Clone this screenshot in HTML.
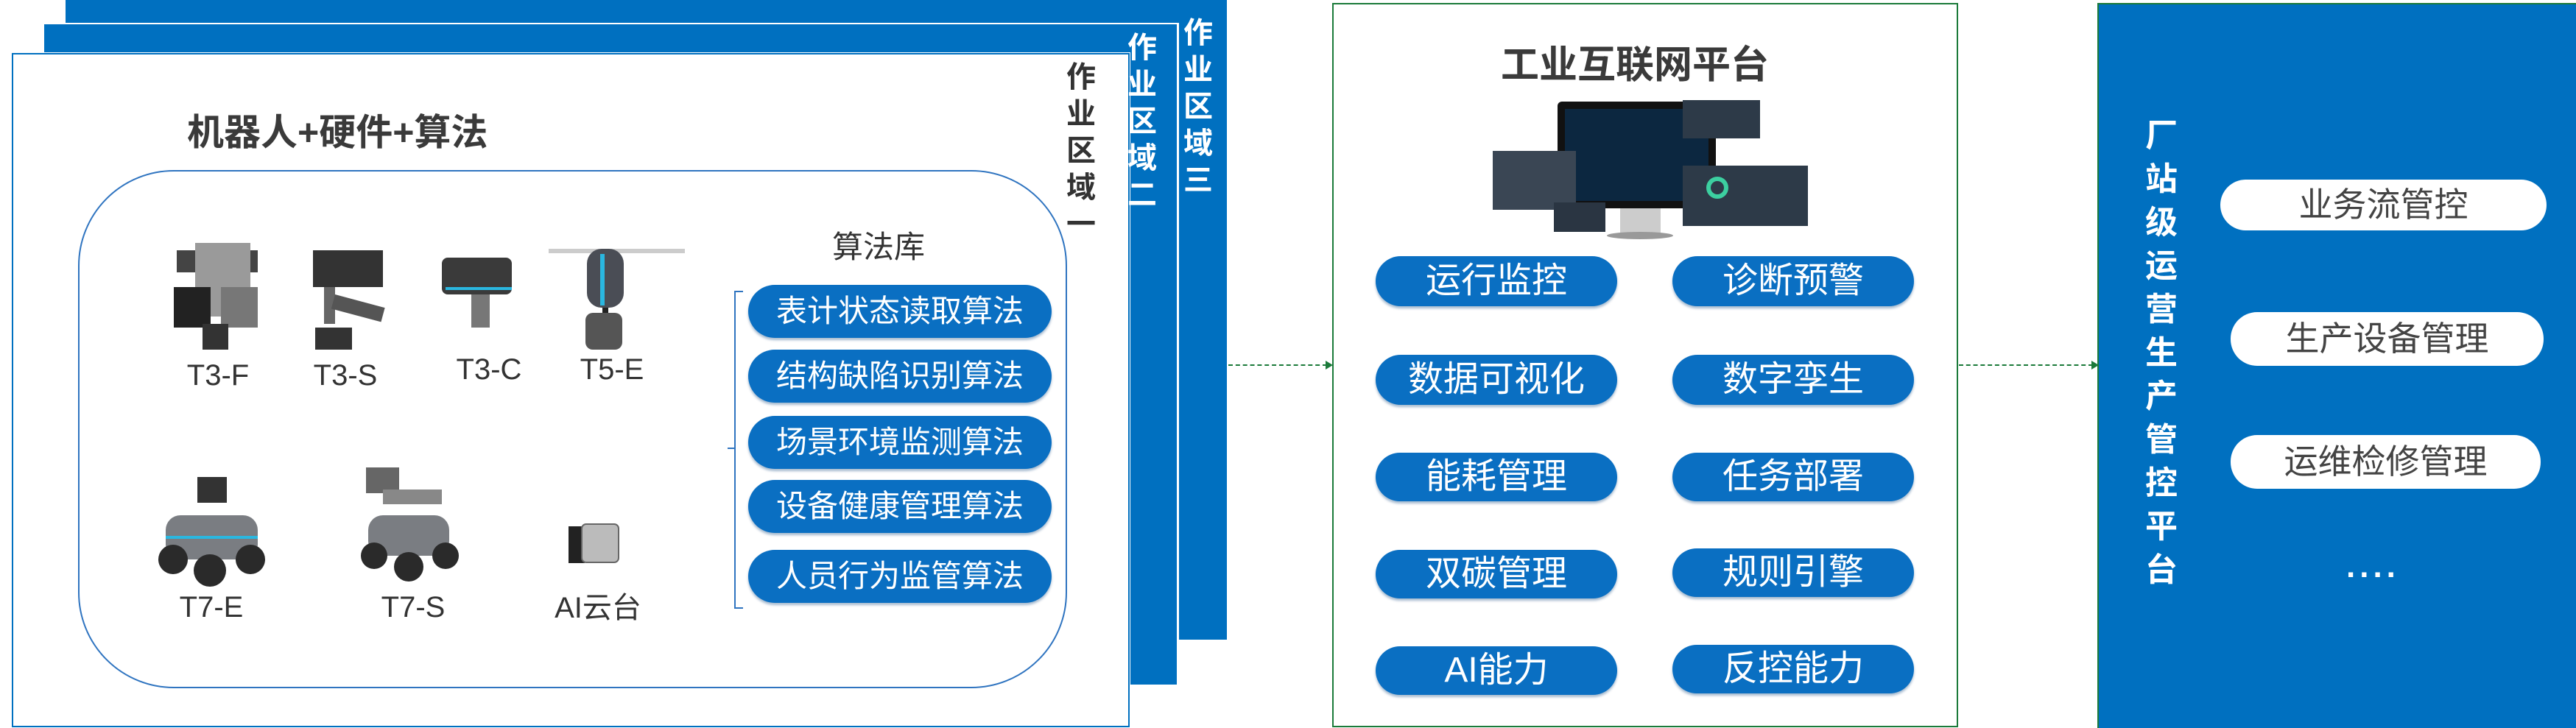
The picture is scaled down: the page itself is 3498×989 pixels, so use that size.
<!DOCTYPE html>
<html><head><meta charset="utf-8"><style>
body{margin:0;width:3498px;height:987px;background:#fff;position:relative;overflow:hidden;font-family:"Liberation Sans","Noto Sans CJK SC",sans-serif}
.a{position:absolute}
.pill{position:absolute;background:#0a6fc2;color:#fff;border-radius:36px;text-align:center;font-size:42px;box-shadow:0 3px 3px rgba(0,60,120,.35)}
.wp{position:absolute;background:#fff;color:#444;border-radius:36px;text-align:center;font-size:46px}
.vt{position:absolute;font-weight:bold;font-size:40px;line-height:50px;width:50px;text-align:center}
.lbl{position:absolute;font-size:40px;color:#333;text-align:center;width:140px}
</style></head><body>
<div class="a" style="left:89px;top:0;width:1577px;height:869px;background:#0070c0"></div>
<div class="a" style="left:60px;top:31px;width:1540px;height:3px;background:#fff"></div>
<div class="a" style="left:1598px;top:31px;width:3px;height:838px;background:#fff"></div>
<div class="a" style="left:60px;top:33px;width:1538px;height:897px;background:#0070c0"></div>
<div class="a" style="left:16px;top:71px;width:1518px;height:3px;background:#fff"></div>
<div class="a" style="left:1532px;top:71px;width:3px;height:860px;background:#fff"></div>
<div class="a" style="left:16px;top:72px;width:1514px;height:912px;background:#fff;border:2px solid #0070c0"></div>
<div class="vt" style="left:1443px;top:80px;color:#333">作<br>业<br>区<br>域<br>一</div>
<div class="vt" style="left:1526px;top:40px;color:#fff">作<br>业<br>区<br>域<br>二</div>
<div class="vt" style="left:1602px;top:20px;color:#fff">作<br>业<br>区<br>域<br>三</div>
<div class="a" style="left:254px;top:140px;font-size:50px;font-weight:bold;color:#3a3a3a">机器人+硬件+算法</div>
<div class="a" style="left:106px;top:231px;width:1339px;height:700px;border:2px solid #2f74c0;border-radius:130px"></div>
<div class="a" style="left:1130px;top:302px;font-size:42px;color:#333">算法库</div>
<div class="a" style="left:997px;top:395px;width:10px;height:428px;border:2px solid #2f74c0;border-right:none"></div>
<div class="a" style="left:988px;top:608px;width:10px;height:2px;background:#2f74c0"></div>
<div class="pill" style="left:1016px;top:387px;width:412px;height:72px;line-height:72px">表计状态读取算法</div>
<div class="pill" style="left:1016px;top:475px;width:412px;height:72px;line-height:72px">结构缺陷识别算法</div>
<div class="pill" style="left:1016px;top:565px;width:412px;height:72px;line-height:72px">场景环境监测算法</div>
<div class="pill" style="left:1016px;top:652px;width:412px;height:72px;line-height:72px">设备健康管理算法</div>
<div class="pill" style="left:1016px;top:747px;width:412px;height:72px;line-height:72px">人员行为监管算法</div>
<svg class="a" style="left:0;top:0" width="1000" height="987">
<g fill="#555"><rect x="240" y="340" width="110" height="30" fill="#444"/><rect x="265" y="330" width="75" height="100" fill="#9a9a9a"/><rect x="236" y="390" width="50" height="55" fill="#222"/><rect x="300" y="390" width="50" height="55" fill="#777"/><rect x="275" y="440" width="35" height="35" fill="#333"/></g>
<g><rect x="425" y="340" width="95" height="50" fill="#333"/><rect x="440" y="390" width="15" height="50" fill="#666"/><rect x="455" y="400" width="70" height="20" fill="#555" transform="rotate(15 455 400)"/><rect x="428" y="445" width="50" height="30" fill="#333"/></g>
<g><rect x="600" y="350" width="95" height="50" rx="8" fill="#3a3a3a"/><rect x="640" y="400" width="25" height="45" fill="#777"/><rect x="605" y="390" width="90" height="4" fill="#2ab7e0"/></g>
<g><rect x="745" y="338" width="185" height="6" fill="#ccc"/><rect x="797" y="338" width="50" height="80" rx="20" fill="#4a4d55"/><rect x="815" y="345" width="6" height="70" fill="#2ab7e0"/><rect x="818" y="418" width="8" height="20" fill="#222"/><rect x="795" y="425" width="50" height="50" rx="10" fill="#555"/></g>
<g><rect x="268" y="648" width="40" height="35" fill="#333"/><rect x="225" y="700" width="125" height="60" rx="20" fill="#7a7d82"/><circle cx="235" cy="760" r="20" fill="#2a2a2a"/><circle cx="340" cy="760" r="20" fill="#2a2a2a"/><circle cx="285" cy="775" r="22" fill="#2a2a2a"/><rect x="225" y="728" width="125" height="4" fill="#2ab7e0"/></g>
<g><rect x="497" y="635" width="45" height="35" fill="#666"/><rect x="520" y="665" width="80" height="20" fill="#888"/><rect x="500" y="700" width="110" height="55" rx="20" fill="#7a7d82"/><circle cx="508" cy="755" r="18" fill="#2a2a2a"/><circle cx="605" cy="755" r="18" fill="#2a2a2a"/><circle cx="555" cy="770" r="20" fill="#2a2a2a"/></g>
<g><rect x="772" y="715" width="22" height="50" fill="#222"/><rect x="790" y="712" width="50" height="52" rx="6" fill="#bbb" stroke="#666" stroke-width="2"/></g>
</svg>
<div class="lbl" style="left:226px;top:488px">T3-F</div>
<div class="lbl" style="left:399px;top:488px">T3-S</div>
<div class="lbl" style="left:594px;top:480px">T3-C</div>
<div class="lbl" style="left:761px;top:480px">T5-E</div>
<div class="lbl" style="left:217px;top:803px">T7-E</div>
<div class="lbl" style="left:491px;top:803px">T7-S</div>
<div class="lbl" style="left:742px;top:793px">AI云台</div>
<div class="a" style="left:1668px;top:495px;width:134px;border-top:2px dashed #1b7a3a"></div>
<div class="a" style="left:1800px;top:490px;width:0;height:0;border-left:10px solid #1b7a3a;border-top:6px solid transparent;border-bottom:6px solid transparent"></div>
<div class="a" style="left:2660px;top:495px;width:182px;border-top:2px dashed #1b7a3a"></div>
<div class="a" style="left:2840px;top:490px;width:0;height:0;border-left:10px solid #1b7a3a;border-top:6px solid transparent;border-bottom:6px solid transparent"></div>
<div class="a" style="left:1809px;top:4px;width:846px;height:980px;border:2px solid #1b7a3a"></div>
<div class="a" style="left:2038px;top:46px;font-size:52px;font-weight:bold;color:#3a3a3a">工业互联网平台</div>
<svg class="a" style="left:2020px;top:130px" width="440" height="200">
<rect x="95" y="8" width="215" height="145" rx="6" fill="#111"/><rect x="105" y="18" width="195" height="125" fill="#0c2740"/>
<rect x="180" y="153" width="55" height="35" fill="#ccc"/><ellipse cx="207" cy="190" rx="45" ry="5" fill="#999"/>
<rect x="265" y="6" width="105" height="52" fill="#2d3a48"/><rect x="7" y="75" width="113" height="80" fill="#3a4654"/><rect x="90" y="145" width="70" height="40" fill="#2a3542"/>
<rect x="265" y="95" width="170" height="82" fill="#2d3a48"/><circle cx="312" cy="125" r="12" fill="none" stroke="#3ccfa0" stroke-width="6"/>
</svg>
<div class="pill" style="left:1868px;top:348px;width:328px;height:68px;line-height:68px;font-size:48px">运行监控</div>
<div class="pill" style="left:2271px;top:348px;width:328px;height:68px;line-height:68px;font-size:48px">诊断预警</div>
<div class="pill" style="left:1868px;top:482px;width:328px;height:68px;line-height:68px;font-size:48px">数据可视化</div>
<div class="pill" style="left:2271px;top:482px;width:328px;height:68px;line-height:68px;font-size:48px">数字孪生</div>
<div class="pill" style="left:1868px;top:615px;width:328px;height:66px;line-height:66px;font-size:48px">能耗管理</div>
<div class="pill" style="left:2271px;top:615px;width:328px;height:66px;line-height:66px;font-size:48px">任务部署</div>
<div class="pill" style="left:1868px;top:747px;width:328px;height:66px;line-height:66px;font-size:48px">双碳管理</div>
<div class="pill" style="left:2271px;top:745px;width:328px;height:66px;line-height:66px;font-size:48px">规则引擎</div>
<div class="pill" style="left:1868px;top:878px;width:328px;height:66px;line-height:66px;font-size:48px">AI能力</div>
<div class="pill" style="left:2271px;top:876px;width:328px;height:66px;line-height:66px;font-size:48px">反控能力</div>
<div class="a" style="left:2848px;top:4px;width:650px;height:983px;background:#0070c0;border-top:2px solid #1b7a3a;border-left:2px solid #1b7a3a"></div>
<div class="vt" style="left:2910px;top:155px;color:#fff;font-size:44px;line-height:59px">厂<br>站<br>级<br>运<br>营<br>生<br>产<br>管<br>控<br>平<br>台</div>
<div class="wp" style="left:3015px;top:244px;width:443px;height:69px;line-height:69px">业务流管控</div>
<div class="wp" style="left:3029px;top:424px;width:425px;height:73px;line-height:73px">生产设备管理</div>
<div class="wp" style="left:3029px;top:591px;width:421px;height:73px;line-height:73px">运维检修管理</div>
<div class="a" style="left:3186px;top:745px;font-size:44px;color:#fff;letter-spacing:6px;font-weight:bold">....</div>
</body></html>
